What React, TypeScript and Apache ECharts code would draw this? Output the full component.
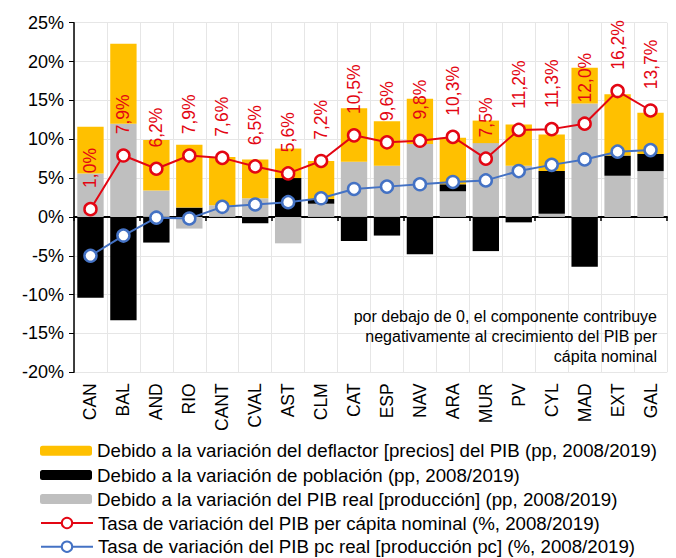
import React, { useEffect, useRef } from "react";
import * as echarts from "echarts";

const categories = ["CAN", "BAL", "AND", "RIO", "CANT", "CVAL", "AST", "CLM", "CAT", "ESP", "NAV", "ARA", "MUR", "PV", "CYL", "MAD", "EXT", "GAL"];
const deflactor = [6.0, 10.3, 6.5, 8.1, 6.2, 5.0, 3.8, 4.9, 6.9, 5.7, 5.8, 6.0, 2.9, 5.3, 4.7, 4.6, 7.9, 5.3];
const poblacion = [-10.4, -13.3, -3.3, 1.2, 0, -0.8, 5.0, 0.6, -3.1, -2.4, -4.8, 0.9, -4.4, -0.7, 5.5, -6.4, 2.6, 2.2];
const pibReal = [5.6, 12.0, 3.4, -1.5, 1.5, 2.4, -3.4, 1.7, 7.1, 6.6, 9.4, 3.3, 9.5, 6.6, 0.4, 14.6, 5.3, 5.9];
const nominalPc = [1.0, 7.9, 6.2, 7.9, 7.6, 6.5, 5.6, 7.2, 10.5, 9.6, 9.8, 10.3, 7.5, 11.2, 11.3, 12.0, 16.2, 13.7];
const realPc = [-5.0, -2.4, -0.1, -0.2, 1.3, 1.6, 1.9, 2.4, 3.6, 3.9, 4.2, 4.5, 4.7, 5.9, 6.7, 7.4, 8.4, 8.6];

const names = [
  "Debido a la variación del deflactor [precios] del PIB (pp, 2008/2019)",
  "Debido a la variación de población (pp, 2008/2019)",
  "Debido a la variación del PIB real [producción] (pp, 2008/2019)",
  "Tasa de variación del PIB per cápita nominal (%, 2008/2019)",
  "Tasa de variación del PIB pc real [producción pc] (%, 2008/2019)",
];
const legendRowCenters = [450.7, 475, 499, 523, 546.7];

const FONT = "'Liberation Sans', Arial, sans-serif";
const RED = "#E30613";
const BLUE = "#4472C4";

export default function App() {
  const ref = useRef<HTMLDivElement>(null);
  useEffect(() => {
    if (!ref.current) return;
    const chart = echarts.init(ref.current, undefined, { renderer: "svg" });
    chart.setOption({
      animation: false,
      textStyle: { fontFamily: FONT },
      grid: { left: 74, right: 9, top: 22.7, bottom: 185.7, containLabel: false },
      legend: names.map((n, i) => ({
        orient: "horizontal",
        left: 40,
        top: legendRowCenters[i] - 11,
        padding: 0,
        itemWidth: 52,
        itemHeight: i < 3 ? 10 : 13,
        textStyle: { fontSize: 18.7, color: "#000", fontFamily: FONT, lineHeight: 22 },
        data: [n],
      })),
      xAxis: [
        {
          type: "category",
          data: categories,
          position: "bottom",
          axisLine: { show: false, onZero: false },
          axisTick: { show: false },
          axisLabel: { rotate: 90, fontSize: 17.5, color: "#000", margin: 11, fontFamily: FONT },
          splitLine: { show: true, lineStyle: { color: "#e6e6e6", width: 1 } },
        },
        {
          type: "category",
          data: categories,
          position: "bottom",
          axisLine: { show: true, onZero: true, lineStyle: { color: "#000", width: 2 } },
          axisTick: { show: true, length: 4, lineStyle: { color: "#000", width: 1.5 } },
          axisLabel: { show: false },
          splitLine: { show: false },
        },
      ],
      yAxis: {
        type: "value",
        min: -20,
        max: 25,
        interval: 5,
        axisLine: { show: true, lineStyle: { color: "#000", width: 1.5 } },
        axisTick: { show: true, length: 5, lineStyle: { color: "#000" } },
        axisLabel: { formatter: "{value}%", fontSize: 18, color: "#000", margin: 10, fontFamily: FONT },
        splitLine: { show: true, lineStyle: { color: "#e6e6e6", width: 1 } },
      },
      series: [
        {
          name: names[2],
          type: "bar",
          stack: "t",
          data: pibReal,
          barCategoryGap: "20%",
          itemStyle: { color: "#BFBFBF" },
        },
        {
          name: names[1],
          type: "bar",
          stack: "t",
          data: poblacion,
          barCategoryGap: "20%",
          itemStyle: { color: "#000000" },
        },
        {
          name: names[0],
          type: "bar",
          stack: "t",
          data: deflactor,
          barCategoryGap: "20%",
          itemStyle: { color: "#FFC000" },
        },
        {
          name: names[3],
          type: "line",
          data: nominalPc,
          z: 5,
          symbol: "circle",
          symbolSize: 12,
          lineStyle: { color: RED, width: 2 },
          itemStyle: { color: "#fff", borderColor: RED, borderWidth: 2.5 },
          label: {
            show: true,
            position: "top",
            distance: 14,
            rotate: 90,
            align: "left",
            verticalAlign: "middle",
            fontSize: 17.5,
            color: RED,
            fontFamily: FONT,
            formatter: (p: any) => p.value.toFixed(1).replace(".", ",") + "%",
          },
        },
        {
          name: names[4],
          type: "line",
          data: realPc,
          z: 6,
          symbol: "circle",
          symbolSize: 12,
          lineStyle: { color: BLUE, width: 2 },
          itemStyle: { color: "#fff", borderColor: BLUE, borderWidth: 2.5 },
        },
      ],
      graphic: [
        {
          type: "text",
          x: 657,
          y: 306,
          z: 10,
          style: {
            text: "por debajo de 0, el componente contribuye\nnegativamente al crecimiento del PIB per\ncápita nominal",
            align: "right",
            verticalAlign: "top",
            font: `16px ${FONT}`,
            lineHeight: 20,
            fill: "#000",
          },
        },
      ],
    });
    return () => chart.dispose();
  }, []);
  return <div ref={ref} style={{ width: 676, height: 558, position: "absolute", left: 0, top: 0 }} />;
}
